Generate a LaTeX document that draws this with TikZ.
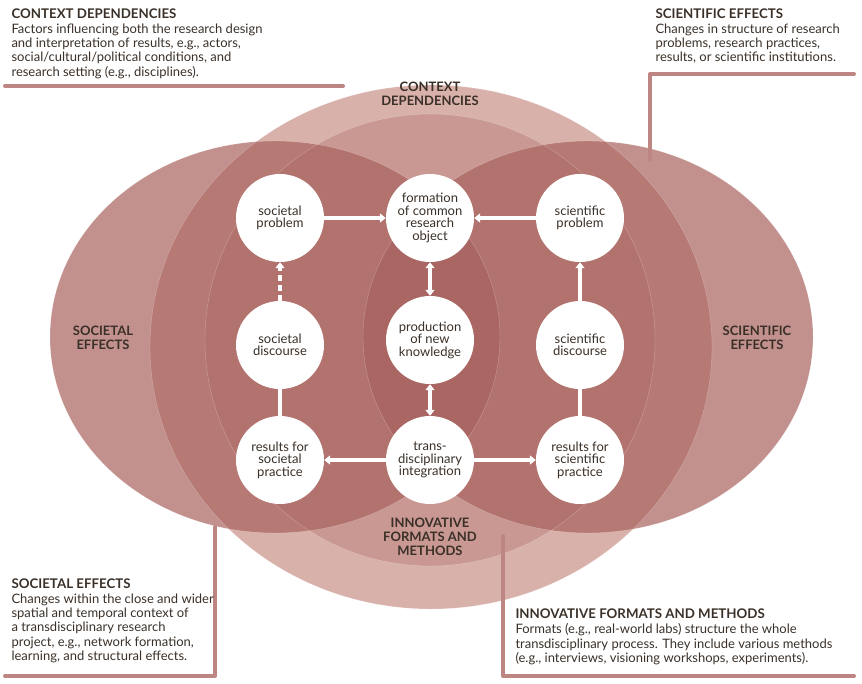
\documentclass[tikz,border=0pt]{standalone}
\usepackage{fontspec}
\setmainfont{Lato}
\usetikzlibrary{arrows.meta}
\definecolor{ctxfill}{HTML}{D9B1AB}
\definecolor{rosebase}{HTML}{9E4F4C}
\definecolor{sidebase}{HTML}{A8625E}
\definecolor{callout}{HTML}{BE8682}
\definecolor{ink}{HTML}{3A3028}
\tikzset{
  stage/.style={circle, fill=white, minimum size=88pt, inner sep=0pt, align=center,
    font=\fontsize{13}{12.5}\selectfont, text=ink},
  flow/.style={white, line width=3.5pt, -{Triangle[length=6pt,width=9pt]}},
  link/.style={white, line width=3.5pt},
  both/.style={white, line width=3.5pt, {Triangle[length=6pt,width=9pt]}-{Triangle[length=6pt,width=9pt]}},
  pointer/.style={callout, line width=4pt, line cap=round, line join=round},
  head/.style={anchor=north west, align=left, text=ink, font=\fontsize{13.3}{14}\selectfont\bfseries},
  body/.style={anchor=north west, align=left, text=ink, font=\fontsize{13}{14.4}\selectfont},
  zone/.style={align=center, text=ink, font=\fontsize{13}{14}\selectfont\bfseries}
}
\begin{document}
\begin{tikzpicture}[x=1pt, y=-1pt]
	\useasboundingbox (0,0) rectangle (862,683);
	% overlapping fields
	\fill[ctxfill] (431,347) ellipse [x radius=281, y radius=262];
	\fill[rosebase, fill opacity=0.25] (430,340) ellipse [x radius=225, y radius=226];
	\fill[sidebase, fill opacity=0.7] (275,337) ellipse [x radius=225, y radius=196];
	\fill[sidebase, fill opacity=0.7] (588,337) ellipse [x radius=225, y radius=196];
	\draw[white, opacity=0.3, line width=0.4pt] (430,340) ellipse [x radius=225, y radius=226]
		(275,337) ellipse [x radius=225, y radius=196] (588,337) ellipse [x radius=225, y radius=196]
		(431,347) ellipse [x radius=281, y radius=262];
	% field labels
	\node[zone] (ctxlabel) at (430,94) {CONTEXT\\DEPENDENCIES};
	\node[zone] (soclabel) at (103,338) {SOCIETAL\\EFFECTS};
	\node[zone] (scilabel) at (757,338) {SCIENTIFIC\\EFFECTS};
	\node[zone] (innlabel) at (430,537) {INNOVATIVE\\FORMATS AND\\METHODS};
	% stages
	\node[stage] (socprob) at (280,218) {societal\\problem};
	\node[stage] (common) at (430,218) {formation\\of common\\research\\object};
	\node[stage] (sciprob) at (580,218) {scientific\\problem};
	\node[stage] (socdisc) at (280,345) {societal\\discourse};
	\node[stage] (newknow) at (430,340) {production\\of new\\knowledge};
	\node[stage] (scidisc) at (580,345) {scientific\\discourse};
	\node[stage] (socprac) at (280,460) {results for\\societal\\practice};
	\node[stage] (integ) at (430,460) {trans-\\disciplinary\\integration};
	\node[stage] (sciprac) at (580,460) {results for\\scientific\\practice};
	% connections
	\draw[flow] (socprob) -- (common);
	\draw[flow] (sciprob) -- (common);
	\draw[flow, dash pattern=on 6pt off 4pt] (socdisc) -- (socprob);
	\draw[flow] (scidisc) -- (sciprob);
	\draw[link] (socdisc) -- (socprac);
	\draw[link] (scidisc) -- (sciprac);
	\draw[both] (common) -- (newknow);
	\draw[both] (newknow) -- (integ);
	\draw[flow] (integ) -- (socprac);
	\draw[flow] (integ) -- (sciprac);
	% callouts
	\coordinate (tlA) at (5,86);
	\coordinate (tlB) at (343,86);
	\draw[pointer] (tlA) -- (tlB);
	\coordinate (trA) at (650,160);
	\coordinate (trB) at (854,74);
	\draw[pointer] (trA) |- (trB);
	\coordinate (blA) at (215,527);
	\coordinate (blB) at (5,676);
	\draw[pointer] (blA) |- (blB);
	\coordinate (brA) at (503,536);
	\coordinate (brB) at (854,676);
	\draw[pointer] (brA) |- (brB);
	\node[head] (tlhead) at (8,5) {CONTEXT DEPENDENCIES};
	\node[body] (tlbody) at (8,20) {Factors influencing both the research design\\and interpretation of results, e.g., actors,\\social/cultural/political conditions, and\\research setting (e.g., disciplines).};
	\node[head] (trhead) at (652,5) {SCIENTIFIC EFFECTS};
	\node[body] (trbody) at (652,20) {Changes in structure of research\\problems, research practices,\\results, or scientific institutions.};
	\node[head] (blhead) at (8,575) {SOCIETAL EFFECTS};
	\node[body] (blbody) at (8,590) {Changes within the close and wider\\spatial and temporal context of\\a transdisciplinary research\\project, e.g., network formation,\\learning, and structural effects.};
	\node[head] (brhead) at (512,605) {INNOVATIVE FORMATS AND METHODS};
	\node[body] (brbody) at (512,620) {Formats (e.g., real-world labs) structure the whole\\transdisciplinary process. They include various methods\\(e.g., interviews, visioning workshops, experiments).};
\end{tikzpicture}
\end{document}
